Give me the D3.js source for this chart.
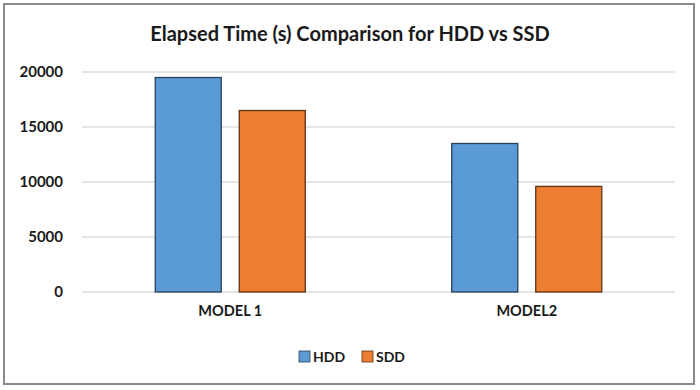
<!DOCTYPE html>
<html>
<head>
<meta charset="utf-8">
<script src="https://cdn.jsdelivr.net/npm/d3@7"></script>
<style>
  body { margin: 0; background: #fff; }
  text { font-family: Lato, "Open Sans", sans-serif; font-weight: bold; fill: #1a1a1a; }
</style>
</head>
<body>
<div id="chart"></div>
<script>
// chart data
const categories = ["MODEL 1", "MODEL2"];
const seriesNames = ["HDD", "SDD"];
const hddValues = [19500, 13500];
const sddValues = [16500, 9600];
const yTicks = [0, 5000, 10000, 15000, 20000];
const colors = {HDD: "#5b9bd5", SDD: "#ed7d31"};
const strokes = {HDD: "#2b3f57", SDD: "#5c3416"};

const WIDTH = 700;
const HEIGHT = 390;
const MARGIN = {top: 72, right: 25, bottom: 98, left: 82};

const rows = categories.map((c, i) => ({cat: c, HDD: hddValues[i], SDD: sddValues[i]}));

const svg = d3.select("#chart").append("svg")
    .attr("width", WIDTH).attr("height", HEIGHT);

// outer frame
svg.append("rect")
    .attr("x", 4).attr("y", 4)
    .attr("width", 690).attr("height", 380)
    .attr("fill", "#fff")
    .attr("stroke", "#8a8a8a")
    .attr("stroke-width", 2);

const x0 = d3.scaleBand().domain(categories).range([MARGIN.left, WIDTH - MARGIN.right]).padding(0);
const x1 = d3.scaleBand().domain(seriesNames).range([0, x0.bandwidth()])
    .paddingInner(0.214).paddingOuter(0.872);
const y = d3.scaleLinear().domain([0, 20000]).range([HEIGHT - MARGIN.bottom, MARGIN.top]);

// gridlines
svg.append("g").selectAll("line")
    .data(yTicks)
    .enter().append("line")
    .attr("x1", MARGIN.left).attr("x2", WIDTH - MARGIN.right)
    .attr("y1", d => y(d)).attr("y2", d => y(d))
    .attr("stroke", "#dcdcdc").attr("stroke-width", 1.5);

// y axis labels
const yAxis = svg.append("g")
    .attr("transform", "translate(" + (MARGIN.left - 19) + ",0)")
    .call(d3.axisLeft(y).tickValues(yTicks).tickSize(0).tickPadding(0).tickFormat(d3.format("d")));
yAxis.select(".domain").remove();
yAxis.selectAll("text").style("font-size", "15px").style("font-family", "Lato, sans-serif").attr("fill", "#1a1a1a");

// bars
const groups = svg.append("g").selectAll("g")
    .data(rows)
    .enter().append("g")
    .attr("transform", d => "translate(" + x0(d.cat) + ",0)");

groups.selectAll("rect")
    .data(d => seriesNames.map(s => ({key: s, value: d[s]})))
    .enter().append("rect")
    .attr("x", d => x1(d.key))
    .attr("y", d => y(d.value))
    .attr("width", x1.bandwidth())
    .attr("height", d => y(0) - y(d.value))
    .attr("fill", d => colors[d.key])
    .attr("stroke", d => strokes[d.key])
    .attr("stroke-width", 1.3);

// category labels
const xAxis = svg.append("g")
    .attr("transform", "translate(0," + (y(0) + 14) + ")")
    .call(d3.axisBottom(x0).tickSize(0).tickPadding(0));
xAxis.select(".domain").remove();
xAxis.selectAll("text").style("font-size", "14.5px").style("font-family", "Lato, sans-serif").attr("fill", "#1a1a1a");

// title
svg.append("text")
    .attr("x", 350).attr("y", 41)
    .attr("text-anchor", "middle")
    .style("font-size", "20px")
    .text("Elapsed Time (s) Comparison for HDD vs SSD");

// legend
const legendX = [299, 362];
const legend = svg.append("g").selectAll("g")
    .data(seriesNames)
    .enter().append("g")
    .attr("transform", (d, i) => "translate(" + legendX[i] + ",351)");
legend.append("rect")
    .attr("width", 11).attr("height", 11)
    .attr("fill", d => colors[d])
    .attr("stroke", d => strokes[d]).attr("stroke-width", 0.8);
legend.append("text")
    .attr("x", 14).attr("y", 11)
    .style("font-size", "14px")
    .text(d => d);
</script>
</body>
</html>
